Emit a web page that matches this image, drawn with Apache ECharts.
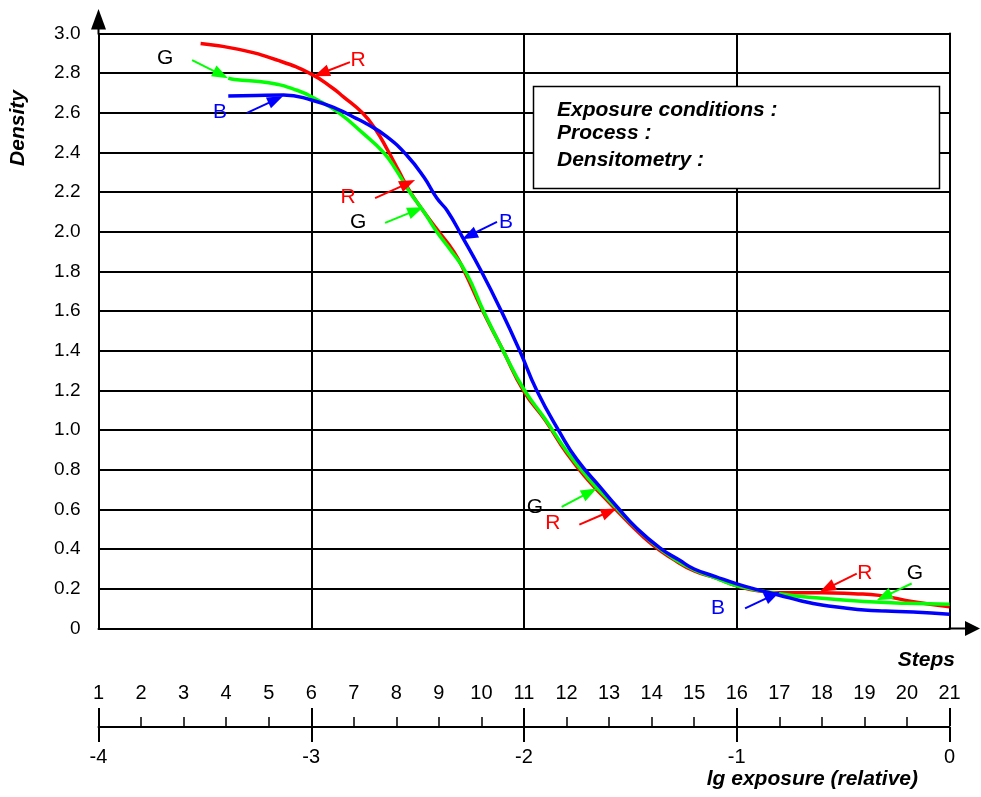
<!DOCTYPE html>
<html>
<head>
<meta charset="utf-8">
<script src="https://cdn.jsdelivr.net/npm/echarts@6/dist/echarts.min.js"></script>
<style>html,body{margin:0;padding:0;background:#fff}#c{width:981px;height:797px}</style>
</head>
<body>
<div id="c"></div>
<script>
// ---- data (lg exposure, density) ----
const redCurve = [
  [-3.52,2.95],[-3.34,2.92],[-3.16,2.866],[-3.00,2.795],[-2.90,2.725],[-2.85,2.682],
  [-2.76,2.60],[-2.70,2.52],[-2.64,2.41],[-2.59,2.31],[-2.54,2.21],[-2.47,2.10],
  [-2.40,2.00],[-2.33,1.90],[-2.28,1.80],[-2.20,1.615],[-2.10,1.405],[-2.00,1.195],
  [-1.90,1.05],[-1.80,0.885],[-1.70,0.75],[-1.60,0.635],[-1.50,0.525],[-1.40,0.425],
  [-1.30,0.35],[-1.20,0.29],[-1.10,0.255],[-1.00,0.215],[-0.90,0.19],[-0.80,0.18],
  [-0.60,0.18],[-0.45,0.175],[-0.33,0.167],[-0.17,0.135],[0.00,0.11]
];
const greenCurve = [
  [-3.39,2.775],[-3.36,2.768],[-3.20,2.752],[-3.07,2.715],[-2.97,2.665],[-2.87,2.60],
  [-2.76,2.50],[-2.66,2.40],[-2.60,2.31],[-2.54,2.205],[-2.47,2.10],[-2.41,2.00],
  [-2.35,1.915],[-2.27,1.79],[-2.19,1.60],[-2.10,1.405],[-2.00,1.205],[-1.90,1.055],
  [-1.80,0.895],[-1.70,0.76],[-1.60,0.645],[-1.50,0.535],[-1.40,0.435],[-1.30,0.355],
  [-1.20,0.295],[-1.10,0.255],[-1.00,0.215],[-0.80,0.175],[-0.60,0.152],[-0.40,0.136],
  [-0.20,0.127],[0.00,0.122]
];
const blueCurve = [
  [-3.39,2.685],[-3.26,2.688],[-3.13,2.69],[-3.00,2.665],[-2.88,2.62],[-2.80,2.578],
  [-2.74,2.545],[-2.645,2.48],[-2.55,2.385],[-2.47,2.275],[-2.41,2.17],[-2.36,2.105],
  [-2.29,1.975],[-2.20,1.80],[-2.105,1.597],[-2.02,1.40],[-1.94,1.20],[-1.83,0.985],
  [-1.75,0.85],[-1.64,0.71],[-1.56,0.61],[-1.47,0.505],[-1.36,0.405],[-1.27,0.345],
  [-1.20,0.30],[-1.10,0.262],[-1.00,0.225],[-0.90,0.195],[-0.80,0.168],[-0.70,0.14],
  [-0.60,0.118],[-0.50,0.105],[-0.40,0.093],[-0.30,0.088],[-0.17,0.083],[0.00,0.072]
];
// tick labels
const densityTickLabels = ['0','0.2','0.4','0.6','0.8','1.0','1.2','1.4','1.6','1.8','2.0','2.2','2.4','2.6','2.8','3.0'];
const lgTickLabels = ['-4','-3','-2','-1','0'];
const stepTickLabels = ['1','2','3','4','5','6','7','8','9','10','11','12','13','14','15','16','17','18','19','20','21'];
// annotation anchors (data coordinates)
const rLabelAt = [[-2.780,2.866],[-2.827,2.175],[-1.864,0.531],[-0.398,0.279]];
const rArrows  = [[[-2.818,2.856],[-2.987,2.785]],[[-2.700,2.170],[-2.512,2.261]],[[-1.740,0.524],[-1.564,0.605]],[[-0.436,0.277],[-0.609,0.185]]];
const gLabelAt = [[-3.687,2.876],[-2.780,2.049],[-1.949,0.612],[-0.163,0.279]];
const gArrows  = [[[-3.560,2.866],[-3.391,2.775]],[[-2.653,2.045],[-2.474,2.124]],[[-1.823,0.613],[-1.658,0.706]],[[-0.178,0.227],[-0.342,0.143]]];
const bLabelAt = [[-3.429,2.604],[-2.085,2.049],[-1.088,0.102]];
const bArrows  = [[[-3.302,2.600],[-3.133,2.684]],[[-2.127,2.050],[-2.291,1.963]],[[-0.961,0.101],[-0.797,0.185]]];
const infoLines = ['Exposure conditions :','Process :','Densitometry :'];

// ---- chart ----
const FONT = '"Liberation Sans", Arial, sans-serif';
const chart = echarts.init(document.getElementById('c'), null, {renderer:'canvas'});
const blk = '#000';
const lineSeries = (data, color, z) => ({
  type:'line', xAxisIndex:0, yAxisIndex:0, data, showSymbol:false, smooth:0.5,
  lineStyle:{color, width:3.5}, itemStyle:{color}, z, silent:true
});
chart.setOption({
  animation:false,
  backgroundColor:'#fff',
  textStyle:{fontFamily:FONT},
  grid:[
    {left:98.5, top:33.5, width:851, height:595},
    {left:98.5, top:726, width:851, height:1},
    {left:98.5, top:726, width:851, height:1}
  ],
  xAxis:[
    {gridIndex:0, type:'value', min:-4, max:0, interval:1,
     axisLine:{show:true, lineStyle:{color:blk, width:2}}, axisTick:{show:false}, axisLabel:{show:false},
     splitLine:{show:true, lineStyle:{color:blk, width:2}}},
    {gridIndex:1, type:'value', position:'bottom', min:-4, max:0, interval:1,
     axisLine:{show:true, onZero:false, lineStyle:{color:blk, width:2}},
     axisTick:{show:true, length:15, lineStyle:{color:blk, width:2}},
     axisLabel:{show:true, margin:20, fontSize:20, color:blk, fontFamily:FONT,
       formatter:v => lgTickLabels[Math.round(v+4)]},
     splitLine:{show:false}},
    {gridIndex:1, type:'value', position:'top', min:-4, max:0, interval:1,
     axisLine:{show:false, onZero:false},
     axisTick:{show:true, length:18, lineStyle:{color:blk, width:2}},
     minorTick:{show:true, splitNumber:5, length:9, lineStyle:{color:blk, width:1.5}},
     axisLabel:{show:false}, splitLine:{show:false}},
    {gridIndex:2, type:'value', position:'top', min:-4, max:0, interval:0.2,
     axisLine:{show:false, onZero:false}, axisTick:{show:false},
     axisLabel:{show:true, margin:23, fontSize:20, color:blk, fontFamily:FONT, showMinLabel:true, showMaxLabel:true,
       formatter:v => stepTickLabels[Math.round((v+4)/0.2)]},
     splitLine:{show:false}}
  ],
  yAxis:[
    {gridIndex:0, type:'value', min:0, max:3, interval:0.2,
     axisLine:{show:true, lineStyle:{color:blk, width:2}},
     axisTick:{show:true, length:8, lineStyle:{color:blk, width:2}},
     axisLabel:{show:true, margin:18, fontSize:19, color:blk, fontFamily:FONT,
       formatter:v => densityTickLabels[Math.round(v/0.2)]},
     splitLine:{show:true, lineStyle:{color:blk, width:2}}},
    {gridIndex:1, type:'value', show:false, min:0, max:1},
    {gridIndex:2, type:'value', show:false, min:0, max:1}
  ],
  series:[
    lineSeries(redCurve, '#ff0000', 2),
    lineSeries(greenCurve, '#00ff00', 3),
    lineSeries(blueCurve, '#0000ff', 4)
  ]
});

// ---- annotations via the chart's own coordinate conversion ----
const toPx = p => chart.convertToPixel({gridIndex:0}, p);
const g = [];
function arrow(from, to, color) {
  const p0 = toPx(from), p1 = toPx(to);
  const dx = p1[0]-p0[0], dy = p1[1]-p0[1], L = Math.hypot(dx, dy);
  const ux = dx/L, uy = dy/L, hl = 16, hw = 6;
  const bx = p1[0]-ux*hl, by = p1[1]-uy*hl;
  g.push({type:'line', z:100, silent:true, shape:{x1:p0[0], y1:p0[1], x2:bx+ux*2, y2:by+uy*2},
          style:{stroke:color, lineWidth:2}});
  g.push({type:'polygon', z:100, silent:true,
          shape:{points:[[p1[0],p1[1]],[bx-uy*hw, by+ux*hw],[bx+uy*hw, by-ux*hw]]},
          style:{fill:color}});
}
function letter(at, txt, color) {
  const p = toPx(at);
  g.push({type:'text', z:101, silent:true, x:p[0], y:p[1],
          style:{text:txt, fill:color, font:'21px ' + FONT, align:'center', verticalAlign:'middle',
                 textAlign:'center', textVerticalAlign:'middle'}});
}
rArrows.forEach(a => arrow(a[0], a[1], '#ff0000'));
gArrows.forEach(a => arrow(a[0], a[1], '#00ff00'));
bArrows.forEach(a => arrow(a[0], a[1], '#0000ff'));
rLabelAt.forEach(p => letter(p, 'R', '#ff0000'));
gLabelAt.forEach(p => letter(p, 'G', '#000000'));
bLabelAt.forEach(p => letter(p, 'B', '#0000ff'));

// axis arrows
const yTop = toPx([-4, 3]);
const xEnd = toPx([0, 0]);
g.push({type:'line', z:90, silent:true, shape:{x1:yTop[0], y1:yTop[1]+1, x2:yTop[0], y2:20}, style:{stroke:blk, lineWidth:2}});
g.push({type:'polygon', z:90, silent:true, shape:{points:[[yTop[0],9],[yTop[0]-7.5,29.5],[yTop[0]+7.5,29.5]]}, style:{fill:blk}});
g.push({type:'line', z:90, silent:true, shape:{x1:xEnd[0]-1, y1:xEnd[1], x2:970, y2:xEnd[1]}, style:{stroke:blk, lineWidth:2}});
g.push({type:'polygon', z:90, silent:true, shape:{points:[[980,xEnd[1]],[965,xEnd[1]-7.5],[965,xEnd[1]+7.5]]}, style:{fill:blk}});

// axis names
const bi = 'italic bold 21px ' + FONT;
g.push({type:'text', z:95, silent:true, x:18, y:128, rotation:Math.PI/2,
        style:{text:'Density', fill:blk, font:bi, align:'center', verticalAlign:'middle', textAlign:'center', textVerticalAlign:'middle'}});
g.push({type:'text', z:95, silent:true, x:955, y:660,
        style:{text:'Steps', fill:blk, font:bi, align:'right', verticalAlign:'middle', textAlign:'right', textVerticalAlign:'middle'}});
g.push({type:'text', z:95, silent:true, x:918, y:779,
        style:{text:'lg exposure (relative)', fill:blk, font:bi, align:'right', verticalAlign:'middle', textAlign:'right', textVerticalAlign:'middle'}});

// info box
g.push({type:'rect', z:95, silent:true, shape:{x:533.5, y:86.5, width:406, height:102},
        style:{fill:'#fff', stroke:blk, lineWidth:1.5}});
const infoY = [110, 133, 160];
infoLines.forEach((t, i) => g.push({type:'text', z:96, silent:true, x:557, y:infoY[i],
        style:{text:t, fill:blk, font:bi, align:'left', verticalAlign:'middle', textAlign:'left', textVerticalAlign:'middle'}}));

chart.setOption({graphic:{elements:g}});
</script>
</body>
</html>
